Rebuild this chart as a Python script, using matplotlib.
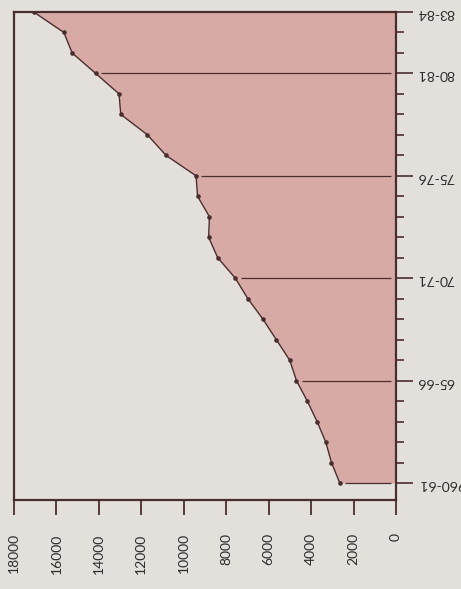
import matplotlib
matplotlib.use("Agg")
import matplotlib.pyplot as plt
from matplotlib.ticker import FixedLocator

plt.rcParams['font.family'] = ['Lato', 'DejaVu Sans']

# Data (financial years, start year) and values
years = [1960, 1961, 1962, 1963, 1964, 1965, 1966, 1967, 1968, 1969, 1970, 1971,
         1972, 1973, 1974, 1975, 1976, 1977, 1978, 1979, 1980, 1981, 1982, 1983]
values = [2650, 3040, 3310, 3720, 4180, 4690, 5010, 5640, 6270, 6980, 7570, 8400,
          8830, 8790, 9350, 9420, 10840, 11710, 12970, 13050, 14150, 15260, 15650, 17070]
label_years = [1960, 1965, 1970, 1975, 1980, 1983]
year_labels = ["1960-61", "65-66", "70-71", "75-76", "80-81", "83-84"]
guide_years = [1960, 1965, 1970, 1975, 1980]
value_ticks = [0, 2000, 4000, 6000, 8000, 10000, 12000, 14000, 16000, 18000]

bg = "#e3e0dc"
fill_c = "#d8aaa6"
dark = "#4a2e2e"
txt = "#2f2a2a"

fig = plt.figure(figsize=(4.61, 5.89), dpi=100, facecolor=bg)
ax = fig.add_axes([14/461, 1 - 500/589, (396 - 14)/461, (500 - 12)/589])
ax.set_facecolor(bg)

ax.fill_betweenx(years, values, 0, color=fill_c, lw=0, zorder=1)
ax.plot(values, years, color=dark, lw=1.0, marker='o', ms=2.3, zorder=3)

gv = {y: v for y, v in zip(years, values)}
for y in guide_years:
    ax.hlines(y, gv[y] - 250, 250, color=dark, lw=0.9, zorder=2)

ax.set_xlim(18000, 0)
ax.set_ylim(1959.17, 1983)

for s in ax.spines.values():
    s.set_color(dark)
    s.set_linewidth(1.6)

ax.yaxis.tick_right()
ax.yaxis.set_major_locator(FixedLocator(label_years))
ax.set_yticklabels(year_labels, rotation=180, fontsize=10, color=txt)
ax.yaxis.set_minor_locator(FixedLocator(years))
ax.tick_params(axis='y', which='major', direction='out', length=12, width=1.2,
               color=dark, pad=3)
ax.tick_params(axis='y', which='minor', direction='out', length=6, width=1.2,
               color=dark)

ax.xaxis.set_major_locator(FixedLocator(value_ticks))
ax.set_xticklabels([str(v) for v in value_ticks], rotation=90, fontsize=10, color=txt)
ax.tick_params(axis='x', which='major', direction='out', length=11, width=1.3,
               color=dark, pad=13)

fig.savefig("out.png", dpi=100, facecolor=bg)
